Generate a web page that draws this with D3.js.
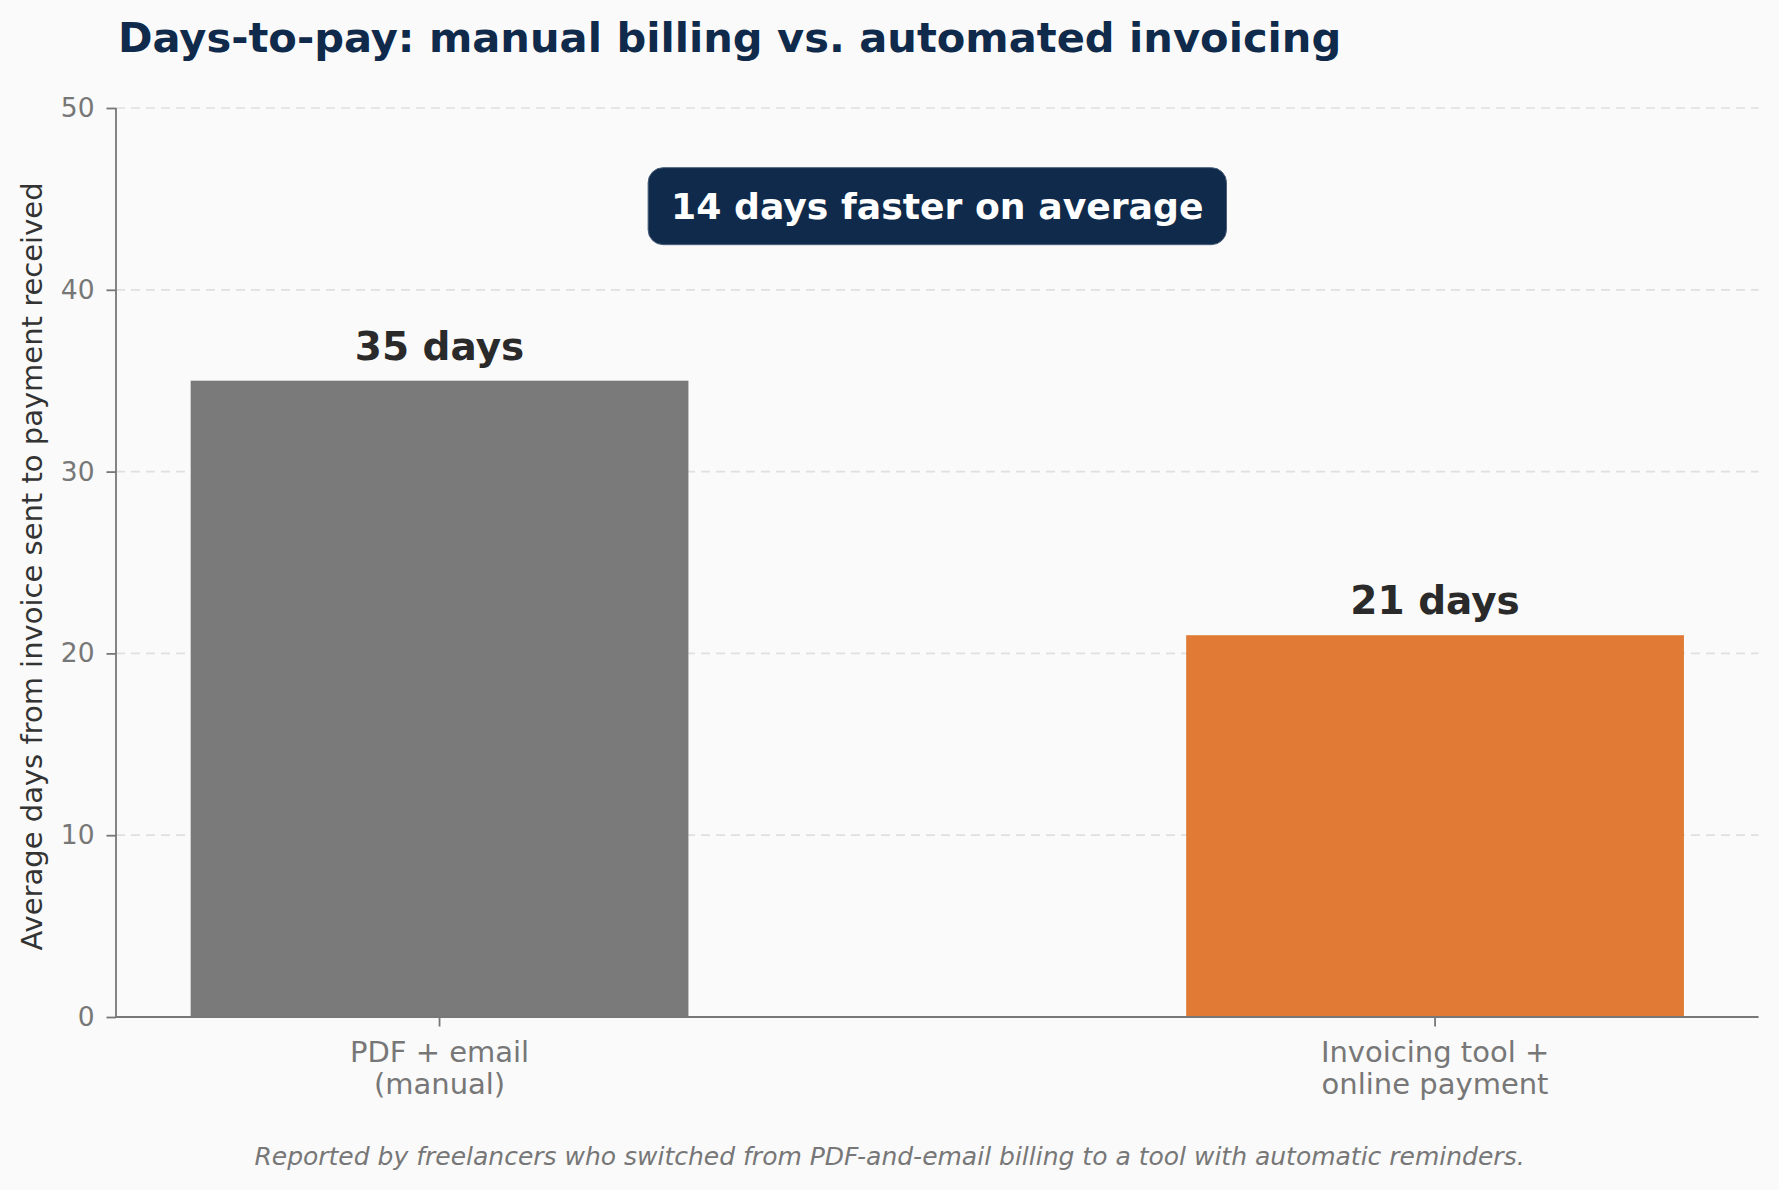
<!DOCTYPE html>
<html>
<head>
<meta charset="utf-8">
<script src="https://cdn.jsdelivr.net/npm/d3@7"></script>
<style>
  html, body { margin: 0; padding: 0; background: #fafafa; }
  svg { display: block; font-family: "DejaVu Sans", sans-serif; }
</style>
</head>
<body>
<div id="chart-area"></div>
<script>
// data
const categories = ["PDF + email\n(manual)", "Invoicing tool +\nonline payment"]
const daysToPay = [35, 21]
const barColors = ["#7a7a7a", "#e07a34"]
const valueLabels = ["35 days", "21 days"]
const yTicks = [0, 10, 20, 30, 40, 50]
const annotationText = "14 days faster on average"
const annotationValue = 44.6

const WIDTH = 1779
const HEIGHT = 1190
const PLOT = { LEFT: 116, RIGHT: 1758.6, TOP: 108, BOTTOM: 1017 }

const svg = d3.select("#chart-area").append("svg")
  .attr("width", WIDTH)
  .attr("height", HEIGHT)

svg.append("rect")
  .attr("width", WIDTH)
  .attr("height", HEIGHT)
  .attr("fill", "#fafafa")

const x = d3.scaleBand()
  .domain(categories)
  .range([PLOT.LEFT, PLOT.RIGHT])
  .paddingInner(0.5)
  .paddingOuter(0.075)

const y = d3.scaleLinear()
  .domain([0, 50])
  .range([PLOT.BOTTOM, PLOT.TOP])

// grid
svg.append("g")
  .selectAll("line")
  .data(yTicks.filter(d => d > 0))
  .enter().append("line")
    .attr("x1", PLOT.LEFT)
    .attr("x2", PLOT.RIGHT)
    .attr("y1", d => y(d))
    .attr("y2", d => y(d))
    .attr("stroke", "#e0e0e0")
    .attr("stroke-width", 1.7)
    .attr("stroke-dasharray", "9,6")

// bars
svg.append("g")
  .selectAll("rect")
  .data(daysToPay)
  .enter().append("rect")
    .attr("x", (d, i) => x(categories[i]))
    .attr("y", d => y(d))
    .attr("width", x.bandwidth())
    .attr("height", d => y(0) - y(d))
    .attr("fill", (d, i) => barColors[i])

// value labels
svg.append("g")
  .selectAll("text")
  .data(daysToPay)
  .enter().append("text")
    .attr("x", (d, i) => x(categories[i]) + x.bandwidth() / 2)
    .attr("y", d => y(d) - 21)
    .attr("text-anchor", "middle")
    .attr("font-size", "39px")
    .attr("font-weight", "bold")
    .attr("fill", "#2a2a2a")
    .text((d, i) => valueLabels[i])

// y axis
const yAxisCall = d3.axisLeft(y)
  .tickValues(yTicks)
  .tickSize(9.5)
  .tickPadding(12)
const yAxis = svg.append("g")
  .attr("transform", "translate(" + PLOT.LEFT + ", 0)")
  .call(yAxisCall)
yAxis.select(".domain")
  .attr("d", "M0," + PLOT.TOP + "V" + PLOT.BOTTOM)
yAxis.selectAll("path, line")
  .attr("stroke", "#777")
  .attr("stroke-width", 1.8)
yAxis.selectAll("text")
  .attr("font-size", "26.5px")
  .attr("font-family", "DejaVu Sans")
  .attr("fill", "#777")

// x axis
const xAxisCall = d3.axisBottom(x)
  .tickSize(9.5)
  .tickFormat("")
const xAxis = svg.append("g")
  .attr("transform", "translate(0, " + PLOT.BOTTOM + ")")
  .call(xAxisCall)
xAxis.select(".domain")
  .attr("d", "M" + PLOT.LEFT + ",0H" + PLOT.RIGHT)
xAxis.selectAll("path, line")
  .attr("stroke", "#777")
  .attr("stroke-width", 1.8)
xAxis.selectAll(".tick").each(function(d) {
  const t = d3.select(this).append("text")
    .attr("text-anchor", "middle")
    .attr("font-size", "29px")
    .attr("font-family", "DejaVu Sans")
    .attr("fill", "#777")
  d.split("\n").forEach(function(line, i) {
    t.append("tspan")
      .attr("x", 0)
      .attr("y", 45 + i * 32)
      .text(line)
  })
})

// y label
svg.append("text")
  .attr("transform", "translate(42, " + ((PLOT.TOP + PLOT.BOTTOM) / 2 + 4) + ") rotate(-90)")
  .attr("text-anchor", "middle")
  .attr("font-size", "29px")
  .attr("fill", "#333")
  .text("Average days from invoice sent to payment received")

// title
svg.append("text")
  .attr("x", 118)
  .attr("y", 52)
  .attr("font-size", "41.6px")
  .attr("font-weight", "bold")
  .attr("fill", "#0f2a4a")
  .text("Days-to-pay: manual billing vs. automated invoicing")

// annotation box
const annX = (x(categories[0]) + x(categories[1])) / 2 + x.bandwidth() / 2
const annY = y(annotationValue)
const ann = svg.append("g")
const annRect = ann.append("rect")
const annLabel = ann.append("text")
  .attr("x", annX)
  .attr("y", annY + 13.2)
  .attr("text-anchor", "middle")
  .attr("font-size", "36.2px")
  .attr("font-weight", "bold")
  .attr("fill", "#ffffff")
  .text(annotationText)
const bb = annLabel.node().getBBox()
annRect
  .attr("x", bb.x - 23)
  .attr("y", annY - 38.5)
  .attr("width", bb.width + 46)
  .attr("height", 77)
  .attr("rx", 15)
  .attr("fill", "#0f2a4a")
  .attr("stroke", "#4a5f7c")
  .attr("stroke-width", 1)

// footnote
svg.append("text")
  .attr("x", WIDTH / 2)
  .attr("y", 1165)
  .attr("text-anchor", "middle")
  .attr("font-size", "25px")
  .attr("font-style", "italic")
  .attr("fill", "#777")
  .text("Reported by freelancers who switched from PDF-and-email billing to a tool with automatic reminders.")
</script>
</body>
</html>
